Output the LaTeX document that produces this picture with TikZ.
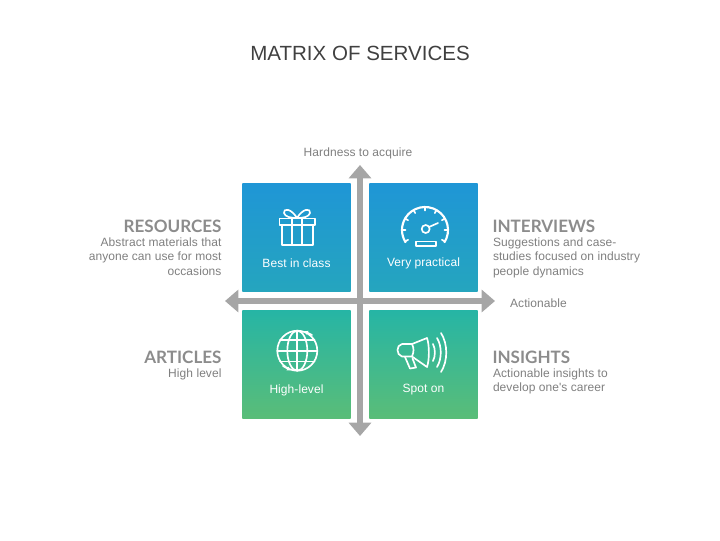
\documentclass[tikz,border=0pt]{standalone}
\usepackage{fontspec}
\setmainfont{Liberation Sans}
\newfontfamily\labelfont[LetterSpace=0.6]{Liberation Sans}
\newfontfamily\headfont{Lato}
\usepackage{xcolor}
\usetikzlibrary{arrows.meta, positioning}
\definecolor{axisgray}{RGB}{166, 166, 166}
\definecolor{titlegray}{RGB}{64, 64, 64}
\definecolor{textgray}{RGB}{127, 127, 127}
\definecolor{headgray}{RGB}{140, 140, 140}
\definecolor{blueA}{RGB}{31, 150, 214}
\definecolor{blueB}{RGB}{37, 165, 190}
\definecolor{tealA}{RGB}{38, 181, 165}
\definecolor{greenB}{RGB}{90, 189, 120}

\begin{document}
\begin{tikzpicture}[
    x=0.75pt, y=-0.75pt,
    node distance=14pt and 14pt,
    every node/.style={outer sep=0pt, inner sep=0pt},
    tile/.style={rectangle, minimum size=81.25pt},
    toptile/.style={tile, top color=blueA, bottom color=blueB},
    lowtile/.style={tile, top color=tealA, bottom color=greenB},
    tiletext/.style={font=\labelfont\fontsize{9}{11}\selectfont, text=white},
    note/.style={font=\labelfont\fontsize{9}{10.9}\selectfont, text=textgray},
    head/.style={font=\headfont\bfseries\fontsize{12.8}{14}\selectfont, text=headgray},
    axis/.style={{Triangle[width=16.5pt,length=10pt]}-{Triangle[width=16.5pt,length=10pt]}, line width=4.5pt, axisgray},
    icon/.style={white, line width=1.25pt, line cap=round, line join=round}
]
    \useasboundingbox (0,0) rectangle (720,540);

    \node (title) [font=\fontsize{15.4}{18}\selectfont, text=titlegray] at (360,53) {MATRIX OF SERVICES};

    \node (resources) [toptile] at (296.5,237.2) {};
    \node (interviews) [toptile, right=of resources] {};
    \node (articles) [lowtile, below=of resources] {};
    \node (insights) [lowtile, right=of articles] {};

    \node (ylabel) [note] at (358,153) {Hardness to acquire};
    \node (xlabel) [note] at (538.5,303) {Actionable};

    \coordinate (north) at (360,165);
    \coordinate (south) at (360,436);
    \coordinate (west) at (225,301);
    \coordinate (east) at (495,301);
    \draw [axis] (south) -- (north);
    \draw [axis] (west) -- (east);

    \node (resText) [tiletext] at ([yshift=-19.3pt]resources.center) {Best in class};
    \node (intText) [tiletext] at ([yshift=-19.3pt]interviews.center) {Very practical};
    \node (artText) [tiletext] at ([yshift=-19.3pt]articles.center) {High-level};
    \node (insText) [tiletext] at ([yshift=-19.3pt]insights.center) {Spot on};

    \node (resHead) [head, anchor=east] at (221.5,226) {RESOURCES};
    \node (resNote) [note, align=right, anchor=north east] at (221.5,237.5) {Abstract materials that\\anyone can use for most\\occasions};
    \node (artHead) [head, anchor=east] at (221.5,357) {ARTICLES};
    \node (artNote) [note, align=right, anchor=north east] at (221.5,368.5) {High level};
    \node (intHead) [head, anchor=west] at (492.5,226) {INTERVIEWS};
    \node (intNote) [note, align=left, anchor=north west] at (493,237.5) {Suggestions and case-\\studies focused on industry\\people dynamics};
    \node (insHead) [head, anchor=west] at (492.5,357) {INSIGHTS};
    \node (insNote) [note, align=left, anchor=north west] at (493,368.5) {Actionable insights to\\develop one's career};

    % gift
    \draw [icon] (279.5,218.5) rectangle (315,225);
    \draw [icon] (282,225) rectangle (313,245);
    \draw [icon] (292,218.5) -- (292,245) (302,218.5) -- (302,245);
    \draw [icon] (297,218) .. controls (291,208) and (283,208) .. (284,213) .. controls (285,217) and (291,218) .. (297,218);
    \draw [icon] (297,218) .. controls (303,208) and (311,208) .. (310,213) .. controls (309,217) and (303,218) .. (297,218);

    % gauge
    \draw [icon, line width=1.6pt] (425,230) ++(-32:17.25pt) arc [start angle=-32, end angle=212, radius=17.25pt];
    \foreach \a in {-30,0,30,60,90,120,150,180,210}
        \draw [icon] (425,230) ++(\a:17.25pt) -- ++(\a:-2.6pt);
    \draw [icon] (425.7,229) circle [radius=3pt];
    \draw [icon] (429,227) -- (438,223);
    \draw [icon] (416,241.5) rectangle (436,246);

    % globe
    \draw [icon] (297.3,350.7) circle [radius=15pt];
    \draw [icon] (297.3,350.7) ellipse [x radius=7.5pt, y radius=15pt];
    \draw [icon] (297.3,330.7) -- (297.3,370.7);
    \draw [icon] (277.3,350.7) -- (317.3,350.7);
    \draw [icon] (280,340) -- (314.6,340) (280,361.4) -- (314.6,361.4);
    \draw [icon, -{Latex[length=3pt,width=3.5pt]}] (312,335) -- (304,331);
    \draw [icon, -{Latex[length=3pt,width=3.5pt]}] (283,366) -- (291,370.5);

    % megaphone
    \draw [icon] (412,344) -- (427,338) .. controls (429.5,345) and (429.5,360) .. (427,367) -- (412,356.5) -- (402,356.5) .. controls (396,355) and (396,345) .. (402,344) -- cycle;
    \draw [icon] (412,344) .. controls (414,348) and (414,352) .. (412,356.5);
    \draw [icon] (405,357) -- (410,368.5) -- (416,367.5) -- (412.5,358.5);
    \draw [icon] (433,344) .. controls (435.5,349) and (435.5,356) .. (433,361);
    \draw [icon] (437,338) .. controls (442,346) and (442,359) .. (437,367);
    \draw [icon] (441,333) .. controls (448,344) and (448,361) .. (441,372);
\end{tikzpicture}
\end{document}
